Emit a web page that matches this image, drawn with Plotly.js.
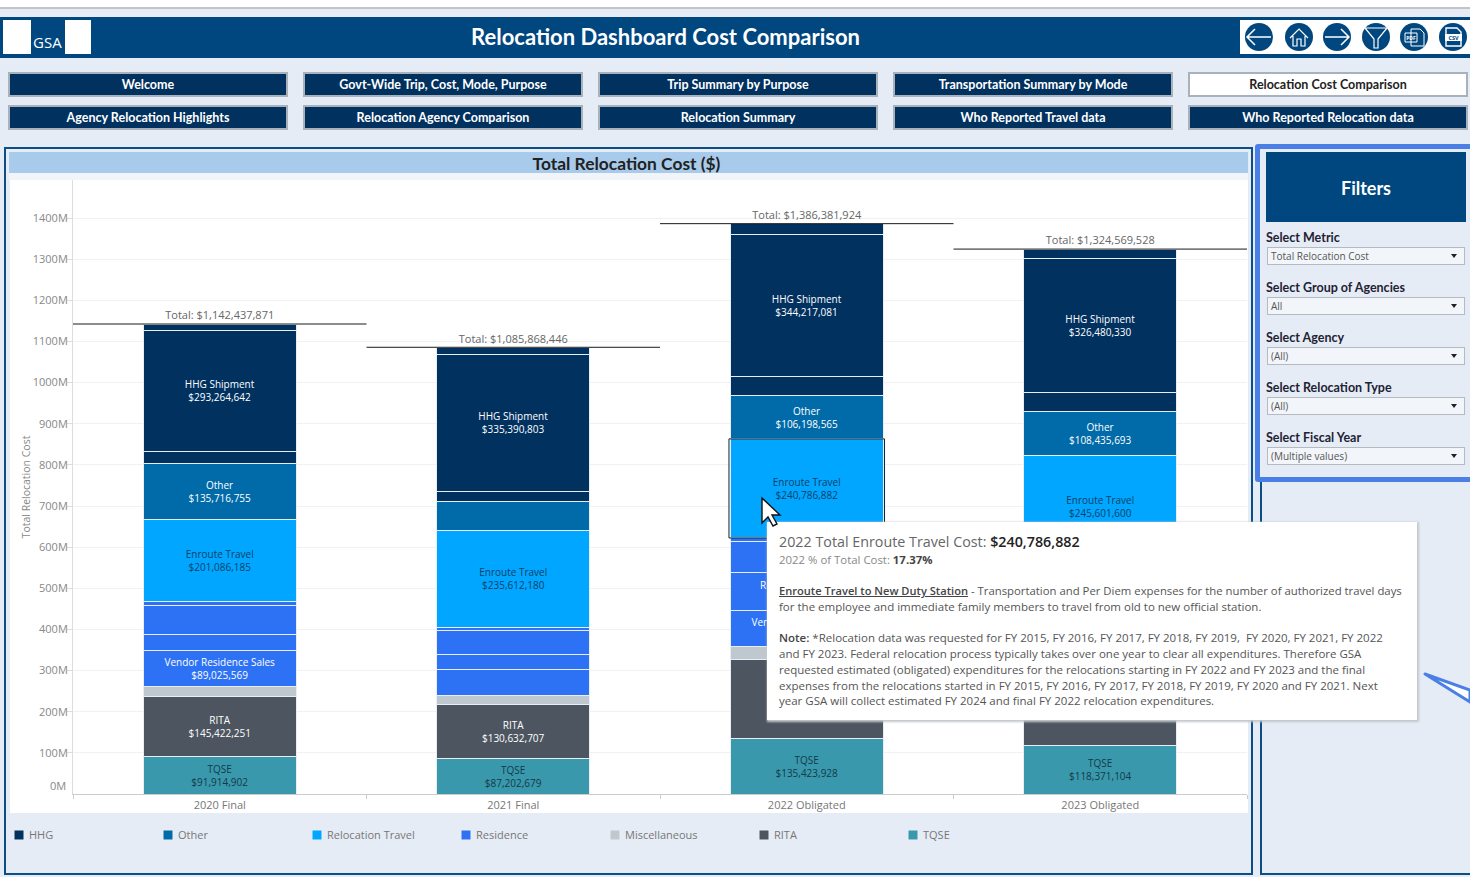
<!DOCTYPE html>
<html><head><meta charset="utf-8">
<script src="https://cdn.plot.ly/plotly-3.0.1.min.js"></script>
<style>
html,body{margin:0;padding:0;width:1470px;height:877px;overflow:hidden;background:#e6ecf5;font-family:"Open Sans",sans-serif}
.a{position:absolute;box-sizing:border-box}
.btn{background:#01315f;border:2px solid #a9b2bb;color:#fff;font-family:Lato,sans-serif;font-weight:700;font-size:12.5px;text-align:center;height:25px;line-height:21px;width:280px;white-space:nowrap}
.btn.on{background:#fff;color:#222}
.flab{left:1266px;font-family:Lato,sans-serif;font-size:12.5px;font-weight:700;color:#223;line-height:14px;white-space:nowrap}
.dd{left:1267px;width:198px;height:18px;background:#f2f5fa;border:1px solid #b5bac0;font-size:10px;line-height:16px;padding-left:3px;color:#555}
.dd:after{content:"";position:absolute;right:7px;top:6px;border-left:3px solid transparent;border-right:3px solid transparent;border-top:4px solid #222}
.tip{position:absolute;left:767px;top:522px;width:650px;height:198px;background:#fff;box-shadow:1px 1px 2px 1px #c4c8cc;z-index:3;color:#555;font-size:11.5px}
.tip div{position:absolute;left:12px;white-space:nowrap;line-height:16px}
#chart{position:absolute;left:0;top:0;width:1470px;height:877px;z-index:2}
</style></head><body>
<div class="a" style="left:0;top:0;width:1470px;height:7px;background:#fff"></div>
<div class="a" style="left:0;top:7px;width:1470px;height:2px;background:#c4c4c4"></div>
<div class="a" style="left:0;top:17px;width:1470px;height:41px;background:#00467f"></div>
<div class="a" style="left:3px;top:20px;width:88px;height:34px;background:#fff"></div>
<div class="a" style="left:31px;top:20px;width:34px;height:34px;background:#00467f;color:#fff;font-size:15px;padding:13px 0 0 2px;line-height:18px">GSA</div>
<div class="a" style="left:0;width:1331px;top:23px;text-align:center;color:#fff;font-family:Lato,sans-serif;font-size:22px;font-weight:700;line-height:28px;white-space:nowrap" id="ttl">Relocation Dashboard Cost Comparison</div>
<div class="a" style="left:1240px;top:20px;width:230px;height:34px;background:#fff"></div>
<svg class="a" style="left:1240px;top:20px" width="230" height="34" fill="none" stroke="#fff" stroke-width="1.5">
 <g><circle cx="19" cy="17" r="14" fill="#00467f" stroke="none"/><path d="M31 17H8M15 9l-8 8 8 8"/></g>
 <g><circle cx="59" cy="17" r="14" fill="#00467f" stroke="none"/><path d="M50 18l9-9 9 9M53 16v10h4v-7h4v7h4V16" stroke-width="1.2"/></g>
 <g><circle cx="97" cy="17" r="14" fill="#00467f" stroke="none"/><path d="M85 17h23M101 9l8 8-8 8"/></g>
 <g><circle cx="136" cy="17" r="14" fill="#00467f" stroke="none"/><path d="M125 8h22l-9 11v9h-4V19z" stroke-width="1.2"/></g>
 <g><circle cx="174" cy="17" r="14" fill="#00467f" stroke="none"/><path d="M171 9h9l4 4v13h-13z M165 13h12v9h-12z" stroke-width="1"/><text x="171" y="20" fill="#fff" stroke="none" font-size="5" font-family="Open Sans" font-weight="700" text-anchor="middle">PDF</text></g>
 <g><circle cx="213" cy="17" r="14" fill="#00467f" stroke="none"/><path d="M206 8h11l4 4v14h-15z" stroke-width="1.4"/><rect x="205" y="14" width="17" height="7" fill="#fff" stroke="none"/><text x="213.500" y="20" fill="#00467f" stroke="none" font-size="5.500" font-family="Open Sans" font-weight="700" text-anchor="middle">CSV</text></g>
</svg>
<div id="btns"></div>

<div class="a" style="left:4px;top:147px;width:1249px;height:728px;border:2.5px solid #0b4f85"></div>
<div class="a" style="left:9px;top:152px;width:1239px;height:21px;background:#a9cbeb"></div>
<div class="a" style="left:9px;top:152px;width:1235px;height:23px;text-align:center;color:#222;font-family:Lato,sans-serif;font-size:17.4px;font-weight:700;line-height:23px" id="st">Total Relocation Cost ($)</div>
<div class="a" style="left:9px;top:173px;width:1239px;height:7px;background:#f1f4f9"></div>
<div class="a" style="left:10px;top:180px;width:1238px;height:633px;background:#fff"></div>

<div class="a" style="left:1260px;top:480px;width:212px;height:395px;border:2.5px solid #0b4f85"></div>
<div class="a" style="left:1255px;top:144px;width:220px;height:338px;border:5px solid #4a80e6;border-radius:3px"></div>
<div class="a" style="left:1266px;top:152px;width:200px;height:70px;background:#00467f;color:#fff;font-family:Lato,sans-serif;font-size:18px;font-weight:700;text-align:center;line-height:73px">Filters</div>
<div id="filters"></div>

<div id="chart"></div>

<div class="tip">
 <div style="top:10px;font-size:14.3px;line-height:20px;color:#666">2022 Total Enroute Travel Cost: <span style="color:#222;font-weight:600">$240,786,882</span></div>
 <div style="top:30px;color:#888;font-size:11.4px">2022 % of Total Cost: <b style="color:#444">17.37%</b></div>
 <div style="top:61px;font-size:11.35px"><b style="text-decoration:underline;color:#444;font-weight:600;font-size:11.1px">Enroute Travel to New Duty Station</b> - Transportation and Per Diem expenses for the number of authorized travel days</div>
 <div style="top:77px">for the employee and immediate family members to travel from old to new official station.</div>
 <div style="top:108px"><b style="color:#444;font-weight:600">Note:</b> *Relocation data was requested for FY 2015, FY 2016, FY 2017, FY 2018, FY 2019,&nbsp; FY 2020, FY 2021, FY 2022</div>
 <div style="top:124px">and FY 2023. Federal relocation process typically takes over one year to clear all expenditures. Therefore GSA</div>
 <div style="top:140px">requested estimated (obligated) expenditures for the relocations starting in FY 2022 and FY 2023 and the final</div>
 <div style="top:156px">expenses from the relocations started in FY 2015, FY 2016, FY 2017, FY 2018, FY 2019, FY 2020 and FY 2021. Next</div>
 <div style="top:171px">year GSA will collect estimated FY 2024 and final FY 2022 relocation expenditures.</div>
</div>
<svg class="a" style="left:755px;top:495px;z-index:4" width="30" height="36"><path d="M7 3V28l6-6 5 9 4-2-5-9h8z" fill="#fff" stroke="#111" stroke-width="1.4"/></svg>
<svg class="a" style="left:1415px;top:660px;z-index:1" width="55" height="50"><path d="M10 14L55 30V42z" fill="#fff" stroke="#4a80e6" stroke-width="3" stroke-linejoin="round"/></svg>

<script>
var categories = ['2020 Final','2021 Final','2022 Obligated','2023 Obligated'];
var totals = [1142437871,1085868446,1386381924,1324569528];
var tqse = [91914902,87202679,135423928,118371104];
var rita = [145422251,130632707,192700000,172000000];
var misc = [23000000,20400000,31000000,28000000];
var resVendor = [89025569,65000000,85800000,82000000];
var resPurchase = [39000000,35000000,93000000,80000000];
var resOther = [69000000,59000000,75000000,88000000];
var resThin = [10000000,8400000,9500000,8500000];
var enroute = [201086185,235612180,240786882,245601600];
var other = [135716755,69900000,106198565,108435693];
var hhgStorage = [29000000,23000000,46500000,44000000];
var hhgShipment = [293264642,335390803,344217081,326480330];
var hhgTop = [15000000,16300000,26250000,23200000];

var tqseLabels = ['TQSE','TQSE','TQSE','TQSE'];
var ritaLabels = ['RITA','RITA','',''];
var vendorLabels = ['Vendor Residence Sales','','Vendor Residence Sales',''];
var purchaseLabels = ['','','Residence Purchase',''];
var enrouteLabels = ['Enroute Travel','Enroute Travel','Enroute Travel','Enroute Travel'];
var otherLabels = ['Other','','Other','Other'];
var hhgLabels = ['HHG Shipment','HHG Shipment','HHG Shipment','HHG Shipment'];
var blank = ['','','',''];

var navy='#01315f', blue='#016aa8', sky='#00a6ff', res='#2d72f5', grey='#bfc7cf', slate='#4d5660', teal='#3a98ad';
var W='#ffffff', darkText='#0d3f66';

function fmt(v){return '$'+v.toLocaleString('en-US');}
function labelled(labels,vals){return labels.map(function(l,i){return l? l+'<br>'+fmt(vals[i]) : '';});}
function seg(name,vals,labels,color,txt,legendName,rank){
  return {type:'bar',x:categories,y:vals,name:legendName||name,marker:{color:color,line:{color:'#e8eef3',width:1}},
    width:0.521,text:labelled(labels,vals),textposition:'inside',insidetextanchor:'middle',textangle:0,constraintext:'none',
    textfont:{family:'Open Sans, sans-serif',size:10,color:txt},showlegend:!!legendName,legendrank:rank||1000,hoverinfo:'skip',cliponaxis:false};
}
var traces=[
 seg('TQSE',tqse,tqseLabels,teal,'#123a48','TQSE',7),
 seg('RITA',rita,ritaLabels,slate,W,'RITA',6),
 seg('Miscellaneous',misc,blank,grey,W,'Miscellaneous',5),
 seg('Vendor Residence Sales',resVendor,vendorLabels,res,W,'Residence',4),
 seg('Residence Purchase',resPurchase,purchaseLabels,res,W),
 seg('Residence Other',resOther,blank,res,W),
 seg('Residence Misc',resThin,blank,res,W),
 seg('Enroute Travel',enroute,enrouteLabels,sky,darkText,'Relocation Travel',3),
 seg('Other',other,otherLabels,blue,W,'Other',2),
 seg('HHG Storage',hhgStorage,blank,navy,W),
 seg('HHG Shipment',hhgShipment,hhgLabels,navy,W,'HHG',1),
 seg('HHG Other',hhgTop,blank,navy,W),
 {type:'scatter',mode:'markers+text',x:categories,y:totals,text:totals.map(function(t){return 'Total: '+fmt(t);}),textposition:'top center',
  marker:{size:1.5,opacity:0},textfont:{family:'Open Sans, sans-serif',size:11,color:'#666'},showlegend:false,hoverinfo:'skip',cliponaxis:false}
];
var sel=2, below=0;
[tqse,rita,misc,resVendor,resPurchase,resOther,resThin].forEach(function(a){below+=a[sel];});
var yTicks=[100,200,300,400,500,600,700,800,900,1000,1100,1200,1300,1400].map(function(m){return m*1e6;});
var totalLines=totals.map(function(t,i){return {type:'line',xref:'x',yref:'y',x0:i-0.5,x1:i+0.5,y0:t,y1:t,line:{color:'#1a1a1a',width:1},layer:'above'};});
var layout={
 width:1470,height:877,barmode:'stack',bargap:0.479,
 paper_bgcolor:'rgba(0,0,0,0)',plot_bgcolor:'rgba(0,0,0,0)',
 margin:{l:73,r:223,t:180,b:83,pad:0},
 font:{family:'Open Sans, sans-serif',color:'#888'},
 xaxis:{type:'category',categoryorder:'array',categoryarray:categories,range:[-0.5,3.5],tickson:'boundaries',ticks:'outside',ticklen:4,tickcolor:'#ccc',
   showgrid:false,showline:true,linecolor:'#ccc',linewidth:1,tickfont:{size:11,color:'#777'},ticklabelstandoff:1,automargin:false},
 yaxis:{range:[0,1492500000],tickvals:yTicks,ticktext:yTicks.map(function(v){return (v/1e6)+'M';}),ticks:'outside',ticklen:5,tickcolor:'#ddd',
   showline:true,linecolor:'#ddd',linewidth:1,gridcolor:'#f1f1f1',gridwidth:1,zeroline:false,tickfont:{size:11,color:'#888'},ticklabelstandoff:-3,automargin:false,
   title:{text:'Total Relocation Cost',font:{size:10.5,color:'#888'},standoff:0}},
 legend:{orientation:'h',xref:'container',yref:'container',x:0,xanchor:'left',y:0.0479,yanchor:'middle',entrywidth:104,entrywidthmode:'pixels',traceorder:'normal',
   font:{size:11,color:'#777'},bgcolor:'rgba(0,0,0,0)',itemclick:false,itemdoubleclick:false},
 annotations:[{xref:'paper',yref:'y',x:0,y:0,xanchor:'right',xshift:-5,yshift:9,text:'0M',showarrow:false,font:{size:11,color:'#888'}}],
 shapes:totalLines.concat([{type:'rect',xref:'x',yref:'y',x0:sel-0.265,x1:sel+0.265,y0:below,y1:below+enroute[sel],line:{color:'#10202f',width:1},fillcolor:'rgba(0,0,0,0)',layer:'above'}])
};
Plotly.newPlot('chart',traces,layout,{displayModeBar:false,staticPlot:true}).then(function(){
  document.querySelectorAll('#chart .legend .legendtext').forEach(function(t){
    t.setAttribute('x',29);
    t.querySelectorAll('tspan').forEach(function(s){if(s.getAttribute('x'))s.setAttribute('x',29);});
  });
  document.querySelectorAll('#chart .legend .legendpoints path').forEach(function(p){p.setAttribute('d','M4,5H-6V-5H4Z');});
});

var btnRows=[['Welcome','Govt-Wide Trip, Cost, Mode, Purpose','Trip Summary by Purpose','Transportation Summary by Mode','Relocation Cost Comparison'],
 ['Agency Relocation Highlights','Relocation Agency Comparison','Relocation Summary','Who Reported Travel data','Who Reported Relocation data']];
var h='';
btnRows.forEach(function(r,ri){r.forEach(function(t,i){h+='<div class="a btn'+(t==='Relocation Cost Comparison'?' on':'')+'" style="left:'+(8+295*i)+'px;top:'+(ri?105:72)+'px">'+t+'</div>';});});
document.getElementById('btns').innerHTML=h;
var filterNames=['Select Metric','Select Group of Agencies','Select Agency','Select Relocation Type','Select Fiscal Year'];
var filterVals=['Total Relocation Cost','All','(All)','(All)','(Multiple values)'];
var f='';
filterNames.forEach(function(n,i){f+='<div class="a flab" style="top:'+(231+50*i)+'px">'+n+'</div><div class="a dd" style="top:'+(247+50*i)+'px">'+filterVals[i]+'</div>';});
document.getElementById('filters').innerHTML=f;
</script>
</body></html>
